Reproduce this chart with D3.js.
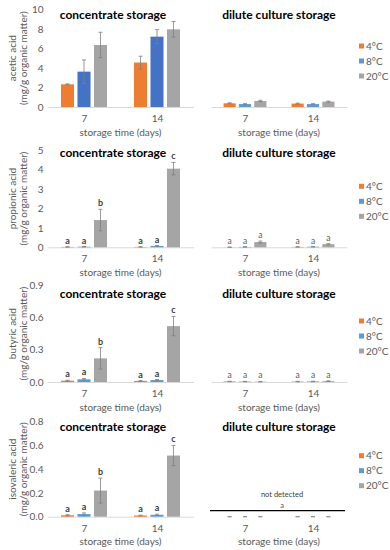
<!DOCTYPE html>
<html>
<head>
<meta charset="utf-8">
<script src="https://cdn.jsdelivr.net/npm/d3@7"></script>
<style>
  body { margin: 0; background: #fff; }
  text { font-family: Lato, "Open Sans", sans-serif; }
</style>
</head>
<body>
<script>
const W = 390, H = 550

// data
const days = ['7', '14']
const temps = ['4°C', '8°C', '20°C']

const aceticConc = [[2.32, 3.62, 6.35], [4.55, 7.2, 7.95]]
const aceticConcErr = [[0.05, 1.2, 1.3], [0.65, 0.72, 0.8]]
const aceticDil = [[0.38, 0.3, 0.62], [0.35, 0.3, 0.55]]
const aceticDilErr = [[0.05, 0.05, 0.07], [0.05, 0.05, 0.05]]

const propionicConc = [[0.02, 0.03, 1.4], [0.02, 0.07, 4.04]]
const propionicConcErr = [[0.01, 0.01, 0.55], [0.01, 0.02, 0.32]]
const propionicDil = [[0.005, 0.02, 0.27], [0.02, 0.03, 0.16]]
const propionicDilErr = [[0.005, 0.01, 0.05], [0.01, 0.01, 0.03]]

const butyricConc = [[0.012, 0.025, 0.22], [0.01, 0.018, 0.52]]
const butyricConcErr = [[0.004, 0.008, 0.1], [0.003, 0.005, 0.09]]
const butyricDil = [[0.005, 0.004, 0.003], [0.004, 0.005, 0.008]]
const butyricDilErr = [[0.002, 0.002, 0.002], [0.002, 0.002, 0.003]]

const isovalericConc = [[0.012, 0.022, 0.22], [0.01, 0.016, 0.515]]
const isovalericConcErr = [[0.005, 0.01, 0.105], [0.003, 0.005, 0.085]]
const isovalericDil = [[0, 0, 0], [0, 0, 0]]
const isovalericDilErr = [[0, 0, 0], [0, 0, 0]]

const aceticTicks = [0, 2, 4, 6, 8, 10]
const propionicTicks = [0, 1, 2, 3, 4, 5]
const butyricTicks = [0, 0.3, 0.6, 0.9]
const isovalericTicks = [0, 0.2, 0.4, 0.6, 0.8]

const concLetters = [['a', 'a', 'b'], ['a', 'a', 'c']]
const dilLetters = [['a', 'a', 'a'], ['a', 'a', 'a']]

const rows = [
  {name: 'acetic acid', conc: aceticConc, concErr: aceticConcErr, dil: aceticDil, dilErr: aceticDilErr,
   ticks: aceticTicks, fmt: 'd', concLetters: null, dilLetters: null},
  {name: 'propionic acid', conc: propionicConc, concErr: propionicConcErr, dil: propionicDil, dilErr: propionicDilErr,
   ticks: propionicTicks, fmt: 'd', concLetters: concLetters, dilLetters: dilLetters},
  {name: 'butyric acid', conc: butyricConc, concErr: butyricConcErr, dil: butyricDil, dilErr: butyricDilErr,
   ticks: butyricTicks, fmt: '.1f', concLetters: concLetters, dilLetters: dilLetters},
  {name: 'isovaleric acid', conc: isovalericConc, concErr: isovalericConcErr, dil: isovalericDil, dilErr: isovalericDilErr,
   ticks: isovalericTicks, fmt: '.1f', concLetters: concLetters, dilLetters: null, notDetected: true}
]

// layout
const layout = [
  {top: 9.3, base: 107, titleY: 15},
  {top: 150, base: 247.3, titleY: 153},
  {top: 285.3, base: 382, titleY: 294},
  {top: 421.7, base: 516.7, titleY: 427}
]
const leftRange = [47.5, 193.5]
const rightRange = [211, 347]

const orange = '#ED7D31', blueDark = '#4472C4', blue = '#5B9BD5', gray = '#A5A5A5'
const textGray = '#595959'

const svg = d3.select('body').append('svg')
  .attr('width', W)
  .attr('height', H)

svg.append('rect').attr('width', W).attr('height', H).attr('fill', '#fff')

rows.forEach((r, i) => {
  const L = layout[i]
  const y = d3.scaleLinear()
    .domain([0, r.ticks[r.ticks.length - 1]])
    .range([L.base, L.top])

  const panels = [
    {range: leftRange, vals: r.conc, err: r.concErr, letters: r.concLetters, title: 'concentrate storage',
     colors: [orange, i === 0 ? blueDark : blue, gray], bold: true},
    {range: rightRange, vals: r.dil, err: r.dilErr, letters: r.dilLetters, title: 'dilute culture storage',
     colors: [orange, blue, gray], bold: false, notDetected: r.notDetected}
  ]

  // y axis (left panel only)
  const yAxis = svg.append('g')
    .attr('transform', `translate(${leftRange[0]},0)`)
    .call(d3.axisLeft(y).tickValues(r.ticks).tickSize(0).tickPadding(4).tickFormat(d3.format(r.fmt)))
  yAxis.select('.domain').remove()
  yAxis.selectAll('text').attr('fill', textGray).style('font-size', '10px')

  // y axis title
  const yc = (L.top + L.base) / 2
  const yt = svg.append('text')
    .attr('transform', `translate(12,${yc}) rotate(-90)`)
    .attr('text-anchor', 'middle')
    .attr('fill', textGray)
    .style('font-size', '10px')
  yt.append('tspan').attr('x', 0).attr('dy', '0.35em').text(r.name)
  yt.append('tspan').attr('x', 0).attr('dy', '1.15em').text('(mg/g organic matter)')

  panels.forEach(p => {
    const x = d3.scalePoint().domain(days).range(p.range).padding(0.5)
    const half = x.step() * 0.315
    const xi = d3.scaleBand().domain(temps).range([-half, half]).paddingInner(0.21)
    const color = d3.scaleOrdinal().domain(temps).range(p.colors)

    const pts = days.flatMap((dd, j) => temps.map((t, k) => ({
      day: dd, temp: t, v: p.vals[j][k], e: p.err[j][k], l: p.letters ? p.letters[j][k] : null
    })))

    // x axis
    const xAxis = svg.append('g')
      .attr('transform', `translate(0,${L.base})`)
      .call(d3.axisBottom(x).tickSize(0).tickPadding(8))
    xAxis.select('.domain').attr('stroke', p.notDetected ? 'none' : '#D9D9D9')
    xAxis.selectAll('text').attr('fill', textGray).style('font-size', '10px')

    // bars
    svg.append('g').selectAll('rect')
      .data(pts).enter()
      .append('rect')
        .attr('x', d => x(d.day) + xi(d.temp))
        .attr('y', d => y(d.v))
        .attr('width', xi.bandwidth())
        .attr('height', d => L.base - y(d.v))
        .attr('fill', d => color(d.temp))

    // error bars
    const eg = svg.append('g').attr('stroke', '#7F7F7F').attr('stroke-width', 0.8)
    pts.forEach(d => {
      const cx = x(d.day) + xi(d.temp) + xi.bandwidth() / 2
      const y1 = y(d.v + d.e), y2 = y(Math.max(0, d.v - d.e))
      eg.append('line').attr('x1', cx).attr('x2', cx).attr('y1', y1).attr('y2', y2)
      eg.append('line').attr('x1', cx - 2).attr('x2', cx + 2).attr('y1', y1).attr('y2', y1)
      eg.append('line').attr('x1', cx - 2).attr('x2', cx + 2).attr('y1', y2).attr('y2', y2)
    })

    // significance letters
    if (p.letters) {
      svg.append('g').selectAll('text')
        .data(pts).enter()
        .append('text')
          .attr('x', d => x(d.day) + xi(d.temp) + xi.bandwidth() / 2)
          .attr('y', d => y(d.v + d.e) - 3)
          .attr('text-anchor', 'middle')
          .attr('fill', p.bold ? '#404040' : textGray)
          .style('font-size', p.bold ? '9px' : '8.5px')
          .style('font-weight', p.bold ? 'bold' : 'normal')
          .text(d => d.l)
    }

    const pc = (p.range[0] + p.range[1]) / 2

    if (p.notDetected) {
      svg.append('line')
        .attr('x1', p.range[0] - 1).attr('x2', p.range[1] - 2)
        .attr('y1', L.base - 6).attr('y2', L.base - 6)
        .attr('stroke', '#000').attr('stroke-width', 1.2)
      svg.append('text')
        .attr('x', pc + 3).attr('y', L.base - 19.5)
        .attr('text-anchor', 'middle')
        .attr('fill', '#404040')
        .style('font-size', '7.5px')
        .text('not detected')
      svg.append('text')
        .attr('x', pc + 3).attr('y', L.base - 8.5)
        .attr('text-anchor', 'middle')
        .attr('fill', textGray)
        .style('font-size', '7.5px')
        .text('a')
    }

    // panel title
    svg.append('text')
      .attr('x', p.bold ? 113 : 279)
      .attr('y', L.titleY)
      .attr('dy', '0.35em')
      .attr('text-anchor', 'middle')
      .style('font-size', '12px')
      .style('font-weight', 'bold')
      .attr('fill', '#000')
      .text(p.title)

    // x axis title
    svg.append('text')
      .attr('x', pc)
      .attr('y', L.base + 25)
      .attr('dy', '0.35em')
      .attr('text-anchor', 'middle')
      .attr('fill', textGray)
      .style('font-size', '10px')
      .text('storage time (days)')
  })

  // legend
  const lg = svg.append('g').attr('transform', `translate(359,${L.base - 61})`)
  temps.forEach((t, k) => {
    lg.append('rect')
      .attr('x', 0).attr('y', k * 15 - 2.5)
      .attr('width', 5).attr('height', 5)
      .attr('fill', [orange, blue, gray][k])
    lg.append('text')
      .attr('x', 7).attr('y', k * 15)
      .attr('dy', '0.35em')
      .attr('fill', textGray)
      .style('font-size', '10px')
      .text(t)
  })
})
</script>
</body>
</html>
